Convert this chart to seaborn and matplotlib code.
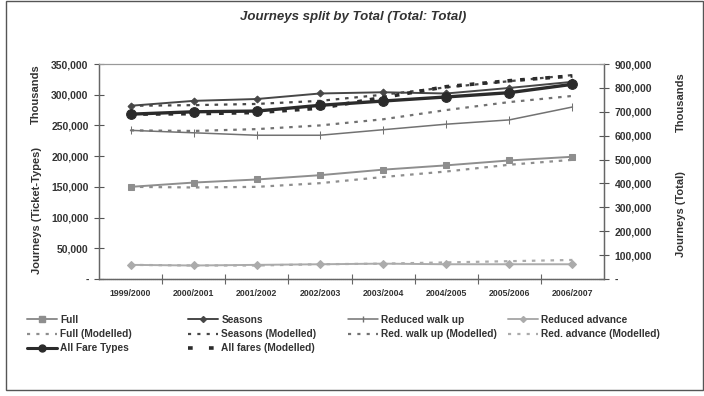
import numpy as np
import pandas as pd
import matplotlib
matplotlib.use("Agg")
import matplotlib.pyplot as plt
from matplotlib.patches import Rectangle
from matplotlib.ticker import FuncFormatter
from matplotlib.lines import Line2D
import seaborn as sns

sns.set_theme(style="white")
plt.rcParams["font.family"] = ["Liberation Sans", "DejaVu Sans"]

years = ["1999/2000", "2000/2001", "2001/2002", "2002/2003",
         "2003/2004", "2004/2005", "2005/2006", "2006/2007"]

# Journeys by ticket type (left axis, thousands)
full = [150000, 157000, 162000, 169000, 178000, 185000, 193000, 199000]
full_mod = [150000, 149000, 150000, 156000, 166000, 175000, 186000, 194000]
seasons = [282000, 290000, 293000, 302000, 304000, 302000, 311000, 321000]
seasons_mod = [282000, 283000, 285000, 290000, 300000, 312000, 322000, 332000]
walkup = [242000, 238000, 234000, 234000, 243000, 252000, 259000, 280000]
walkup_mod = [242000, 241000, 244000, 250000, 260000, 275000, 288000, 298000]
advance = [23000, 22000, 23000, 24000, 25000, 24000, 24000, 24000]
advance_mod = [23000, 22000, 22000, 24000, 25000, 27000, 29000, 31000]

# Total journeys (right axis, thousands)
all_types = [690000, 700000, 703000, 727000, 745000, 762000, 780000, 815000]
all_mod = [690000, 692000, 697000, 715000, 760000, 805000, 830000, 850000]

pos = np.arange(len(years))

fig = plt.figure(figsize=(7.04, 3.96), dpi=100)
fig.patch.set_facecolor("white")
ax = fig.add_axes([99 / 704, 1 - 279 / 396, 505 / 704, 215 / 396])
ax2 = ax.twinx()

c_full = "#8e8e8e"
c_seas = "#474747"
c_walk = "#727272"
c_adv = "#ababab"
c_all = "#2b2b2b"

def draw(axis, vals, color, lw, marker=None, ms=0, dashes=None, z=3):
    sns.lineplot(x=pos, y=vals, ax=axis, color=color, linewidth=lw,
                 marker=marker, markersize=ms, markeredgecolor=color,
                 markerfacecolor=color, zorder=z, legend=False)
    line = axis.get_lines()[-1]
    if dashes is not None:
        line.set_dashes(dashes)
    return line

draw(ax, full_mod, c_full, 1.6, dashes=(1.6, 2.6))
draw(ax, seasons_mod, c_seas, 1.6, dashes=(1.6, 2.6))
draw(ax, walkup_mod, c_walk, 1.6, dashes=(1.6, 2.6))
draw(ax, advance_mod, c_adv, 1.6, dashes=(1.6, 2.6))
draw(ax, full, c_full, 1.4, "s", 5)
draw(ax, seasons, c_seas, 1.4, "D", 3.5)
draw(ax, walkup, c_walk, 1.1, "|", 6)
draw(ax, advance, c_adv, 1.4, "D", 4)

draw(ax2, all_mod, c_all, 2.6, dashes=(1.3, 2.2))
draw(ax2, all_types, c_all, 2.4, "o", 7)

fmt = FuncFormatter(lambda v, p: "-" if v == 0 else f"{int(v):,}")
ax.set_xlim(-0.5, len(years) - 0.5)
ax.set_ylim(0, 350000)
ax.set_yticks(np.arange(0, 350001, 50000))
ax.yaxis.set_major_formatter(fmt)
ax2.set_ylim(0, 900000)
ax2.set_yticks(np.arange(0, 900001, 100000))
ax2.yaxis.set_major_formatter(fmt)

ax.set_xticks(pos)
ax.set_xticklabels(years)
ax.set_xticks(np.arange(0.5, len(years) - 1, 1.0), minor=True)
ax.tick_params(axis="x", which="major", length=0, pad=7, labelsize=6.3,
               labelcolor="#333333")
ax.tick_params(axis="x", which="minor", length=7, direction="inout",
               color="#666666", width=0.8, bottom=True)
ax.tick_params(axis="y", length=7, direction="inout", color="#555555",
               width=0.8, labelsize=7.5, labelcolor="#333333", pad=4, left=True)
ax2.tick_params(axis="y", length=7, direction="inout", color="#555555",
                width=0.8, labelsize=7.5, labelcolor="#333333", pad=4, right=True)
for lab in ax.get_xticklabels() + ax.get_yticklabels() + ax2.get_yticklabels():
    lab.set_fontweight("bold")

for a in (ax, ax2):
    a.set_xlabel("")
    a.set_ylabel("")
    a.grid(False)
    a.set_facecolor("none")
    for side in ("left", "right", "bottom"):
        a.spines[side].set_color("#666666")
        a.spines[side].set_linewidth(0.9)
    a.spines["top"].set_color("#999999")
    a.spines["top"].set_linestyle((0, (1, 1)))
    a.spines["top"].set_linewidth(0.8)
ax.spines["bottom"].set_linestyle((0, (1, 0.6)))

lab_kw = dict(fontsize=8, fontweight="bold", color="#333333", rotation=90,
              ha="center", va="center")
fig.text(37 / 704, 1 - 210 / 396, "Journeys (Ticket-Types)", **lab_kw)
fig.text(36 / 704, 1 - 94 / 396, "Thousands", **lab_kw)
fig.text(681 / 704, 1 - 214 / 396, "Journeys (Total)", **lab_kw)
fig.text(681 / 704, 1 - 102 / 396, "Thousands", **lab_kw)

fig.text(353 / 704, 1 - 17 / 396, "Journeys split by Total (Total: Total)",
         fontsize=9.5, fontweight="bold", fontstyle="italic", color="#333333",
         ha="center", va="center")

def h(color, lw, marker=None, ms=0, dashes=None):
    ln = Line2D([], [], color=color, linewidth=lw, marker=marker,
                markersize=ms, markerfacecolor=color, markeredgecolor=color)
    if dashes is not None:
        ln.set_dashes(dashes)
    return ln

dot = (1.4, 2.8)
columns = [
    ([h(c_full, 1.4, "s", 4), h(c_full, 1.6, dashes=dot), h(c_all, 2.2, "o", 5)],
     ["Full", "Full (Modelled)", "All Fare Types"], 27),
    ([h(c_seas, 1.4, "D", 3), h(c_seas, 1.6, dashes=dot), h(c_all, 2.6, dashes=(1.3, 4.5))],
     ["Seasons", "Seasons (Modelled)", "All fares (Modelled)"], 188),
    ([h(c_walk, 1.1, "|", 5), h(c_walk, 1.6, dashes=dot)],
     ["Reduced walk up", "Red. walk up (Modelled)"], 348),
    ([h(c_adv, 1.4, "D", 3), h(c_adv, 1.6, dashes=dot)],
     ["Reduced advance", "Red. advance (Modelled)"], 508),
]
for handles, labels, x0 in columns:
    leg = fig.legend(handles, labels, loc="upper left",
                     bbox_to_anchor=(x0 / 704, 1 - 315 / 396),
                     frameon=False, handlelength=3.0, handletextpad=0.3,
                     labelspacing=0.4, borderaxespad=0, borderpad=0,
                     prop={"family": "Liberation Sans", "weight": "bold", "size": 7.3})
    for t in leg.get_texts():
        t.set_color("#333333")

fig.add_artist(Rectangle((6 / 704, 1 - 390 / 396), 697 / 704, 389 / 396,
                         transform=fig.transFigure, fill=False,
                         edgecolor="#555555", linewidth=1.0))

fig.savefig("out.png", dpi=100, facecolor="white")
